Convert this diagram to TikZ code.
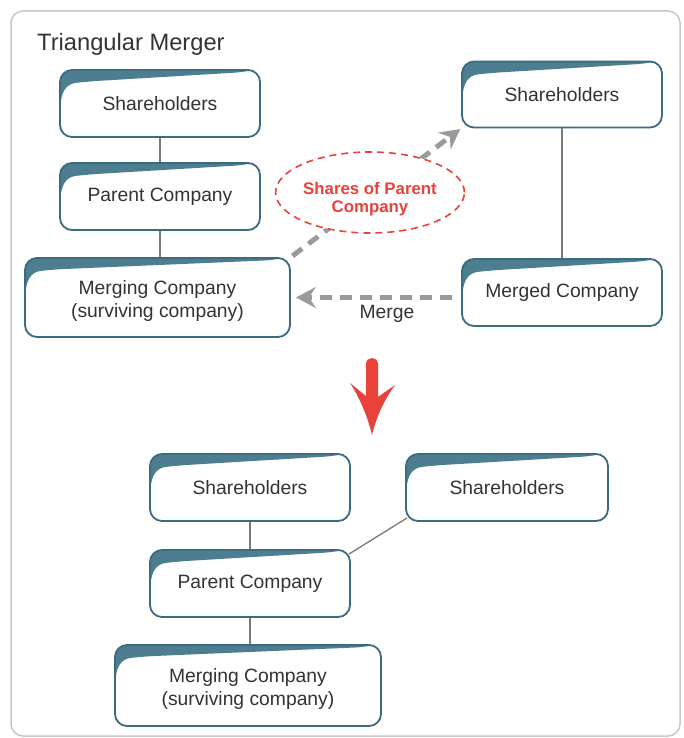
\documentclass[tikz,border=0pt]{standalone}
\usepackage{fontspec}
\setmainfont{Liberation Sans}
\usetikzlibrary{arrows.meta,shapes.geometric,calc}
\definecolor{boxline}{HTML}{3C6A80}
\definecolor{boxteal}{HTML}{4C7E90}
\definecolor{txt}{HTML}{333333}
\definecolor{framec}{HTML}{C8C8C8}
\definecolor{arrowgray}{HTML}{9A9A9A}
\definecolor{linkgray}{HTML}{7A7A7A}
\definecolor{redc}{HTML}{E8423A}
\newcommand{\twolines}[3]{\raisebox{#1}[0pt][0pt]{\begin{tabular}{@{}c@{}}#2\\#3\end{tabular}}}
\tikzset{
  cbox/.style={draw=boxline, line width=1.8pt, fill=white, rounded corners=12pt,
    inner sep=0pt, align=center, text=txt,
    font=\fontsize{19.3}{23}\selectfont,
    path picture={
      \fill[boxteal]
        ($(path picture bounding box.north west)+(0pt,-48pt)$)
        .. controls ($(path picture bounding box.north west)+(1pt,-22pt)$)
        and ($(path picture bounding box.north west)+(6pt,-14pt)$)
        .. ($(path picture bounding box.north west)+(28pt,-11.5pt)$)
        -- ($(path picture bounding box.north east)+(-14pt,-2pt)$)
        -- ($(path picture bounding box.north east)+(2pt,2pt)$)
        -- ($(path picture bounding box.north west)+(-2pt,2pt)$) -- cycle;
    }},
  link/.style={draw=linkgray, line width=1.3pt},
  darrow/.style={draw=arrowgray, line width=5pt, dash pattern=on 12pt off 8pt,
    -{Stealth[length=20pt,width=21pt,inset=7pt]}},
}
\begin{document}
\begin{tikzpicture}[x=1pt,y=-1pt]
\useasboundingbox (0,0) rectangle (683,738);
\fill[white] (0,0) rectangle (683,738);
\draw[framec, line width=1.5pt, rounded corners=12pt] (11,11) rectangle (680,736);
\node[anchor=base west, inner sep=0pt, text=txt, font=\fontsize{23.7}{28}\selectfont] (title) at (37,51) {Triangular Merger};

% top diagram
\node[cbox, minimum width=200pt, minimum height=67pt] (shL) at (160,103.5) {Shareholders};
\node[cbox, minimum width=200pt, minimum height=67pt] (parL) at (160,196.5) {Parent Company};
\node[cbox, minimum width=265pt, minimum height=79pt] (mergL) at (157.5,297.5) {\twolines{-9pt}{Merging Company}{(surviving company)}};
\node[cbox, minimum width=200pt, minimum height=66pt] (shR) at (562,94.5) {Shareholders};
\node[cbox, minimum width=200pt, minimum height=67pt] (mergR) at (562,292.5) {Merged Company};

\draw[link] (shL) -- (parL);
\draw[link] (parL.south) -- (parL.south |- mergL.north);
\draw[link] (shR) -- (mergR);

\draw[darrow, shorten <=2pt, shorten >=1pt] (mergL.north east) -- (shR.south west);
\node[ellipse, draw=redc, line width=1.6pt, dash pattern=on 7pt off 5pt, fill=white,
  minimum width=186pt, minimum height=81pt, inner sep=0pt,
  text=redc, font=\bfseries\fontsize{16.8}{18}\selectfont] (shares) at (370,192.5)
  {\twolines{-11.5pt}{Shares of Parent}{Company}};

\draw[darrow, shorten <=9pt, shorten >=5pt] (mergR.west |- mergL.east) -- (mergL.east);
\node[text=txt, font=\fontsize{19.3}{23}\selectfont] (mlabel) at (387,314) {Merge};

% red arrow
\fill[redc] (366,396) -- (366,364) .. controls (366,356) and (378,356) .. (378,364)
  -- (378,397) -- (395,385) .. controls (384,400) and (376,418) .. (372,435)
  .. controls (368,418) and (360,398) .. (350,383) -- cycle;

% bottom diagram
\node[cbox, minimum width=200pt, minimum height=67pt] (shB) at (250,487.5) {Shareholders};
\node[cbox, minimum width=202pt, minimum height=67pt] (shB2) at (507,487.5) {Shareholders};
\node[cbox, minimum width=200pt, minimum height=67pt] (parB) at (250,583.5) {Parent Company};
\node[cbox, minimum width=266pt, minimum height=81pt] (mergB) at (248,685.5) {\twolines{-9pt}{Merging Company}{(surviving company)}};

\draw[link] (shB) -- (parB);
\draw[link] (parB.south) -- (parB.south |- mergB.north);
\draw[link] ([xshift=-2pt,yshift=-5pt]parB.north east) -- ([xshift=2pt,yshift=4pt]shB2.south west);
\end{tikzpicture}
\end{document}
